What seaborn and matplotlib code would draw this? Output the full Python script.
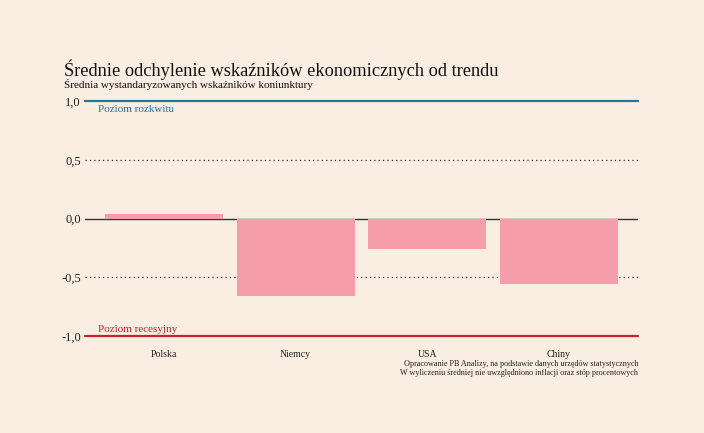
import matplotlib
matplotlib.use("Agg")
import matplotlib.pyplot as plt
import seaborn as sns
import pandas as pd

categories = ["Polska", "Niemcy", "USA", "Chiny"]
values = [0.04, -0.66, -0.26, -0.56]
yticks = [1.0, 0.5, 0.0, -0.5, -1.0]
ytick_labels = ["1,0", "0,5", "0,0", "-0,5", "-1,0"]

BG = "#FAEDE1"
BAR = "#F59DAB"
BLUE = "#1F77A0"
RED = "#C8212B"
DARK = "#333333"

sns.set_theme(style="white")
plt.rcParams["font.family"] = ["Liberation Serif", "DejaVu Serif"]

fig = plt.figure(figsize=(7.04, 4.33), dpi=100, facecolor=BG)
ax = fig.add_axes([85/704, 1 - 336/433, (638-85)/704, (336-101)/433])
ax.set_facecolor(BG)

df = pd.DataFrame({"kraj": categories, "wartosc": values})
sns.barplot(data=df, x="kraj", y="wartosc", color=BAR, width=0.894,
            saturation=1, linewidth=0, edgecolor="none", ax=ax, zorder=1)

ax.set_xlim(-0.6, 3.6)
ax.set_ylim(-1.0, 1.0)

ax.axhline(0.5, color=DARK, lw=0.9, ls=(0, (1, 2.5)), zorder=0)
ax.axhline(-0.5, color=DARK, lw=0.9, ls=(0, (1, 2.5)), zorder=0)
ax.axhline(0.0, color=DARK, lw=1.0, zorder=0)
ax.axhline(1.0, color=BLUE, lw=1.6, zorder=3, clip_on=False)
ax.axhline(-1.0, color=RED, lw=1.6, zorder=3, clip_on=False)

ax.set_yticks(yticks)
ax.set_yticklabels(ytick_labels, fontsize=9, color="#222222")
ax.tick_params(axis="y", length=0, pad=3)
ax.tick_params(axis="x", length=0, pad=10, labelsize=7, labelcolor="#222222")
ax.set_xlabel("")
ax.set_ylabel("")
for s in ax.spines.values():
    s.set_visible(False)

ax.text(-0.5, 0.97, "Poziom rozkwitu", color=BLUE, fontsize=8,
        va="top", ha="left")
ax.text(-0.5, -0.985, "Poziom recesyjny", color=RED, fontsize=8,
        va="bottom", ha="left")

fig.text(64/704, 1 - 76/433, "Średnie odchylenie wskaźników ekonomicznych od trendu",
         fontsize=13.2, color="#111111", va="baseline", ha="left")
fig.text(64/704, 1 - 88/433, "Średnia wystandaryzowanych wskaźników koniunktury",
         fontsize=8, color="#111111", va="baseline", ha="left")
fig.text(638/704, 1 - 364/433,
         "Opracowanie PB Analizy, na podstawie danych urzędów statystycznych",
         fontsize=5.9, color="#222222", va="center", ha="right")
fig.text(638/704, 1 - 373/433,
         "W wyliczeniu średniej nie uwzględniono inflacji oraz stóp procentowych",
         fontsize=5.9, color="#222222", va="center", ha="right")

fig.savefig("out.png", dpi=100, facecolor=BG)
